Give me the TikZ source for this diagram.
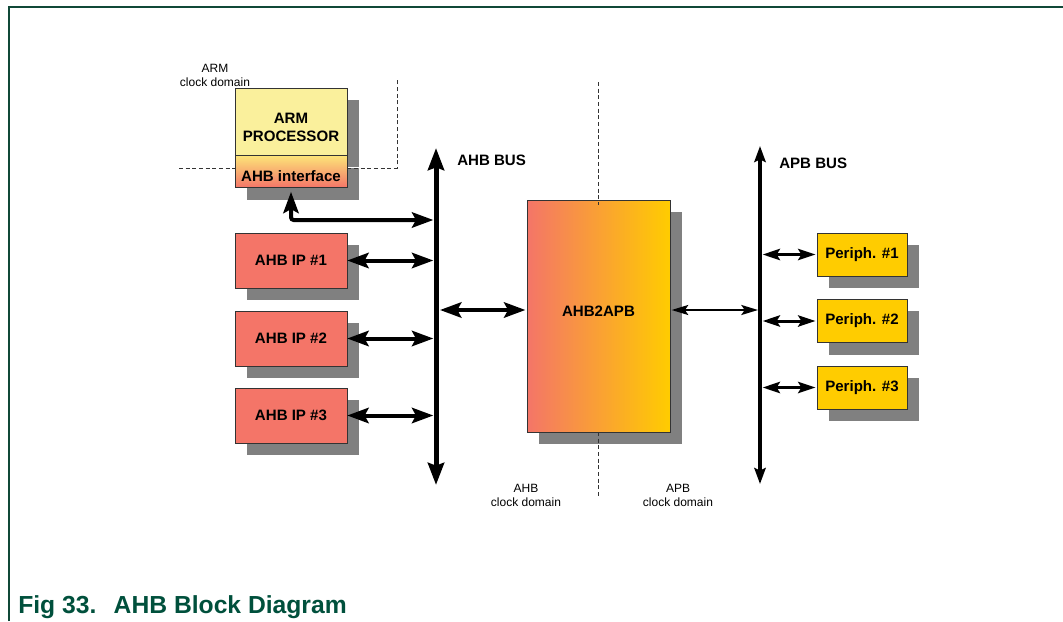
\documentclass[tikz,border=0pt]{standalone}
\usepackage{fontspec}
\setmainfont{Liberation Sans}
\usetikzlibrary{arrows.meta,positioning,shadows,calc}
\definecolor{ipred}{RGB}{244,117,104}
\definecolor{armyellow}{RGB}{250,240,156}
\definecolor{ifyellow}{RGB}{252,228,120}
\definecolor{pyellow}{RGB}{255,204,0}
\definecolor{shadowgray}{RGB}{128,128,128}
\definecolor{nxpgreen}{RGB}{0,80,60}
\definecolor{framegreen}{RGB}{16,72,56}
\tikzset{
  block/.style = {draw=black!80, thin, align=center, inner sep=0pt,
                  font=\bfseries\fontsize{11.3}{13.5}\selectfont,
                  drop shadow={shadow xshift=9pt, shadow yshift=-9pt, fill=shadowgray, opacity=1}},
  ipbox/.style = {block, fill=ipred, minimum width=84pt, minimum height=41pt},
  periph/.style = {block, fill=pyellow, minimum width=67.5pt, minimum height=32.5pt},
  buslabel/.style = {font=\bfseries\fontsize{11.3}{13.5}\selectfont, inner sep=0pt},
  domaintext/.style = {font=\fontsize{9}{10.5}\selectfont, align=center, inner sep=0pt},
  domainline/.style = {black!80, line width=0.6pt, dash pattern=on 3pt off 2pt},
  ahbbus/.style = {line width=3.75pt, {Stealth[length=16.5pt,width=12pt,inset=2pt]}-{Stealth[length=16.5pt,width=12pt,inset=2pt]}},
  apbbus/.style = {line width=2.5pt, {Stealth[length=12pt,width=8.5pt,inset=2pt]}-{Stealth[length=12pt,width=8.5pt,inset=2pt]}},
  bigarrow/.style = {line width=3pt, {Stealth[length=16pt,width=11.5pt,inset=3pt]}-{Stealth[length=16pt,width=11.5pt,inset=3pt]}},
  midarrow/.style = {line width=2.25pt, {Stealth[length=13pt,width=8.5pt,inset=2.5pt]}-{Stealth[length=13pt,width=8.5pt,inset=2.5pt]}},
  thinarrow/.style = {line width=1.5pt, {Stealth[length=12.5pt,width=7.5pt,inset=2.5pt]}-{Stealth[length=12.5pt,width=7.5pt,inset=2.5pt]}}
}
\begin{document}
\begin{tikzpicture}[x=0.75pt, y=-0.75pt]
  \useasboundingbox (0,0) rectangle (1063,621);

  % frame
  \draw[framegreen, line width=1.5pt] (9,621) -- (9,7) -- (1063,7);

  % ARM processor with its AHB interface
  \node[block, fill=armyellow, minimum width=84pt, minimum height=50.25pt] at (291,121.5) (arm) {\rule{0pt}{16pt}ARM\\PROCESSOR};
  \node[block, top color=ifyellow, bottom color=ipred, minimum width=84pt, minimum height=24pt, below=0pt of arm] (ahbif) {\rule{0pt}{15pt}AHB interface};
  \node[domaintext] at (215,75) (armdom) {ARM\\clock domain};

  % AHB masters/slaves
  \foreach \i/\y in {1/260.5, 2/338.5, 3/415.5}
    \node[ipbox] at (291,\y) (ip\i) {AHB IP \#\i};

  % bridge
  \node[block, left color=ipred, right color=pyellow, minimum width=107.25pt, minimum height=174pt] at (598.5,316) (bridge) {\raisebox{6.75pt}{AHB2APB}};

  % APB peripherals
  \foreach \i/\y in {1/254.5, 2/321, 3/387.5}
    \node[periph] at (862,\y) (p\i) {Periph. \#\i};

  % clock domain borders
  \draw[domainline] (179,168) -- (ahbif.west |- 0,168);
  \draw[domainline] (ahbif.east |- 0,168) -- (397,168) -- (397,78);
  \draw[domainline] (598,82) -- (598,205);
  \draw[domainline] (598,432) -- (598,497);
  \node[domaintext] at (526,495) (ahbdom) {AHB\\clock domain};
  \node[domaintext] at (678,495) (apbdom) {APB\\clock domain};

  % AHB bus
  \coordinate (ahbtop) at (436,148);
  \coordinate (ahbbot) at (436,485);
  \draw[ahbbus] (ahbtop) -- (ahbbot);
  \node[buslabel, anchor=west] at (457,160) (ahblabel) {AHB BUS};

  % ARM interface to AHB bus
  \coordinate (armtap) at (436,220);
  \draw[bigarrow, rounded corners=2pt, shorten <=3pt, shorten >=2pt] (ahbif.south) |- (armtap);

  % AHB IPs to AHB bus
  \foreach \i in {1,2,3}
    \draw[bigarrow, shorten >=2pt] (ip\i.east) -- (ahbtop |- ip\i.east);

  % AHB bus to bridge
  \coordinate (bridgein) at ([yshift=4.5pt]bridge.west);
  \draw[bigarrow, shorten <=3pt, shorten >=1pt] (ahbtop |- bridgein) -- (bridgein);

  % APB bus
  \coordinate (apbtop) at (760,146);
  \coordinate (apbbot) at (760,484);
  \draw[apbbus] (apbtop) -- (apbbot);
  \node[buslabel, anchor=west] at (779,163) (apblabel) {APB BUS};

  % bridge to APB bus
  \coordinate (bridgeout) at ([yshift=4.5pt]bridge.east);
  \draw[thinarrow, shorten <=1pt, shorten >=1.5pt] (bridgeout) -- (apbtop |- bridgeout);

  % APB bus to peripherals
  \foreach \i in {1,2,3}
    \draw[midarrow, shorten <=2pt, shorten >=1pt] (apbtop |- p\i.west) -- (p\i.west);

  % caption
  \node[anchor=base west, inner sep=0pt, text=nxpgreen, font=\bfseries\fontsize{18.5}{21}\selectfont] at (18,613) (caption) {Fig 33.\hspace{13pt}AHB Block Diagram};
\end{tikzpicture}
\end{document}
